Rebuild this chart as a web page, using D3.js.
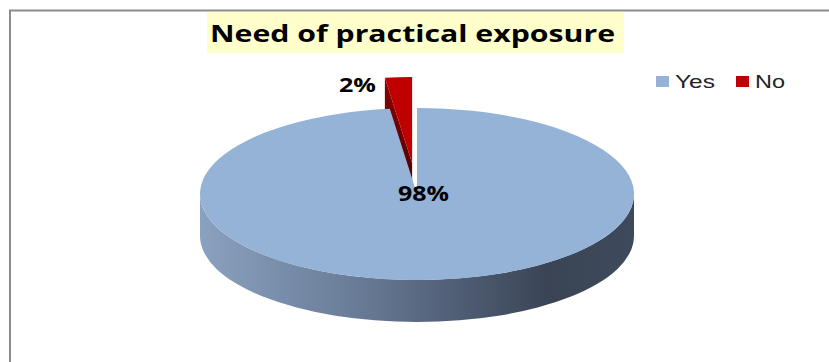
<!DOCTYPE html>
<html>
<head>
<meta charset="utf-8">
<script src="https://cdn.jsdelivr.net/npm/d3@7"></script>
<style>
  body { margin: 0; background: #fff; }
  svg { display: block; }
</style>
</head>
<body>
<script>
// chart data
const categories = ["Yes", "No"];
const values = [98, 2];
const labels = ["98%", "2%"];
const colors = ["#95B3D7", "#C00000"];
const chartTitle = "Need of practical exposure";

var width = 829, height = 362;

var svg = d3.select("body")
    .append("svg")
    .attr("width", width)
    .attr("height", height);

// frame lines (top + left visible)
svg.append("path")
    .attr("d", "M10,362 L10,10.5 L829,10.5")
    .attr("fill", "none")
    .attr("stroke", "#8c8c8c")
    .attr("stroke-width", 2);

// title with yellow highlight (source image is stretched horizontally, hence textLength)
svg.append("rect")
    .attr("x", 207)
    .attr("y", 12)
    .attr("width", 417)
    .attr("height", 41)
    .attr("fill", "#FFFFCC");
svg.append("text")
    .attr("x", 210)
    .attr("y", 42)
    .attr("textLength", 405)
    .attr("lengthAdjust", "spacingAndGlyphs")
    .style("font-family", "'Open Sans', sans-serif")
    .style("font-weight", "bold")
    .style("font-size", "24px")
    .text(chartTitle);

// 3d pie geometry
var cx = 417, cy = 194, rx = 217, ry = 86, depth = 42;
var explode = [0, 0.36];

var pie = d3.pie().sort(null).value(d => d)(values);

function pt(a, ox, oy, dz) {
    return [cx + ox + rx * Math.sin(a), cy + oy - ry * Math.cos(a) + (dz || 0)];
}
function offset(d, i) {
    var mid = (d.startAngle + d.endAngle) / 2;
    return [explode[i] * rx * Math.sin(mid), -explode[i] * ry * Math.cos(mid)];
}

var defs = svg.append("defs");
var grad = defs.append("linearGradient")
    .attr("id", "sideGrad")
    .attr("x1", "0%").attr("x2", "100%").attr("y1", "0%").attr("y2", "0%");
[["0%", "#8aa1bf"], ["35%", "#6a7d98"], ["60%", "#4f5d74"], ["80%", "#3a4455"], ["100%", "#3e4a5c"]]
    .forEach(s => grad.append("stop").attr("offset", s[0]).attr("stop-color", s[1]));

var redGrad = defs.append("linearGradient")
    .attr("id", "redSide")
    .attr("x1", "0%").attr("x2", "0%").attr("y1", "0%").attr("y2", "100%");
redGrad.append("stop").attr("offset", "0%").attr("stop-color", "#8a0000");
redGrad.append("stop").attr("offset", "100%").attr("stop-color", "#4a0000");

var g = svg.append("g");

// draw back (exploded) slices first, then main slice
var order = pie.map((d, i) => i).sort((a, b) => explode[b] - explode[a]);

order.forEach(function(i) {
    var d = pie[i];
    var o = offset(d, i);
    var a0 = d.startAngle, a1 = d.endAngle;
    var c = [cx + o[0], cy + o[1]];

    // radial face at start angle (visible for the small exploded slice)
    if (i > 0) {
        var p0 = pt(a0, o[0], o[1]), p0b = pt(a0, o[0], o[1], depth);
        g.append("path")
            .attr("d", "M" + c + "L" + p0 + "L" + p0b + "L" + [c[0], c[1] + depth] + "Z")
            .attr("fill", "url(#redSide)");
    }

    // outer front wall
    var f0 = Math.max(a0, Math.PI / 2), f1 = Math.min(a1, Math.PI * 1.5);
    if (f1 > f0) {
        var t0 = pt(f0, o[0], o[1]), t1 = pt(f1, o[0], o[1]);
        var b0 = pt(f0, o[0], o[1], depth), b1 = pt(f1, o[0], o[1], depth);
        g.append("path")
            .attr("d", "M" + t0 + "A" + rx + "," + ry + " 0 0 1 " + t1 +
                "L" + b1 + "A" + rx + "," + ry + " 0 0 0 " + b0 + "Z")
            .attr("fill", "url(#sideGrad)");
    }

    // top face
    var s = pt(a0, o[0], o[1]), e = pt(a1, o[0], o[1]);
    var large = (a1 - a0) > Math.PI ? 1 : 0;
    g.append("path")
        .attr("d", "M" + c + "L" + s + "A" + rx + "," + ry + " 0 " + large + " 1 " + e + "Z")
        .attr("fill", colors[i]);
});

// data labels
svg.append("text")
    .attr("x", cx - 19)
    .attr("y", cy + 7)
    .attr("textLength", 51)
    .attr("lengthAdjust", "spacingAndGlyphs")
    .style("font-family", "'Open Sans', sans-serif")
    .style("font-weight", "bold")
    .style("font-size", "21px")
    .text(labels[0]);

var nO = offset(pie[1], 1);
var nP = pt(pie[1].startAngle, nO[0], nO[1]);
svg.append("text")
    .attr("x", nP[0] - 46)
    .attr("y", nP[1] + 14)
    .attr("textLength", 37)
    .attr("lengthAdjust", "spacingAndGlyphs")
    .style("font-family", "'Open Sans', sans-serif")
    .style("font-weight", "bold")
    .style("font-size", "20px")
    .text(labels[1]);

// legend
var legW = [40, 30];
var leg = svg.append("g")
    .selectAll("g")
    .data(categories)
    .enter()
    .append("g")
    .attr("transform", (d, i) => "translate(" + [656 + i * 80, 76] + ")");
leg.append("rect")
    .attr("width", 13)
    .attr("height", 11)
    .attr("fill", (d, i) => colors[i]);
leg.append("text")
    .attr("x", 19)
    .attr("y", 12)
    .attr("textLength", (d, i) => legW[i])
    .attr("lengthAdjust", "spacingAndGlyphs")
    .style("font-family", "'Liberation Sans', Arial, sans-serif")
    .style("font-size", "19px")
    .attr("fill", "#222")
    .text(d => d);
</script>
</body>
</html>
